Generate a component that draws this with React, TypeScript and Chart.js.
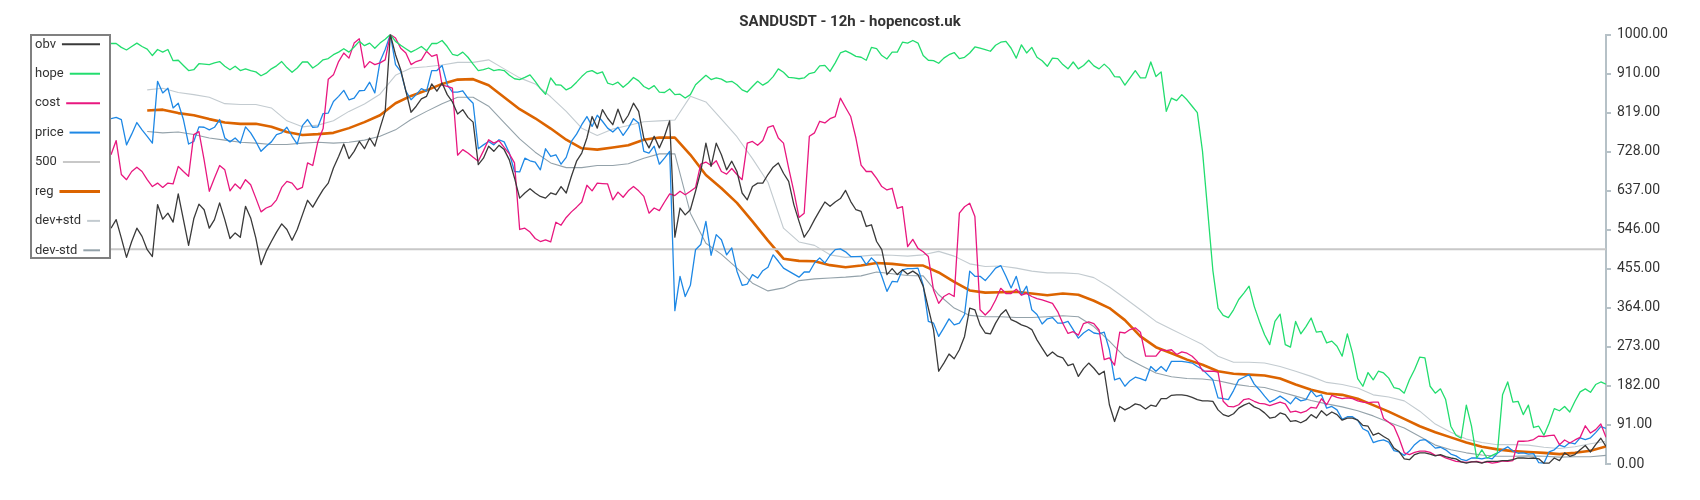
import React, { useEffect, useRef } from "react";
import { Chart, registerables } from "chart.js";

Chart.register(...registerables);

const chartTitle = "SANDUSDT - 12h - hopencost.uk";
const yTickLabels = ["0.00", "91.00", "182.00", "273.00", "364.00", "455.00", "546.00", "637.00", "728.00", "819.00", "910.00", "1000.00"];
const yMin = 0;
const yMax = 1000;

const obv = [
  549, 569, 526, 481, 518, 549, 530, 499, 483, 604,
  570, 584, 563, 629, 569, 509, 571, 605, 592, 549,
  569, 608, 569, 525, 538, 528, 600, 573, 526, 464,
  495, 518, 540, 559, 546, 521, 546, 580, 614, 598,
  619, 639, 654, 689, 716, 745, 711, 728, 751, 734,
  759, 740, 782, 821, 1000, 953, 918, 868, 819, 833,
  850, 856, 885, 868, 887, 860, 843, 815, 825, 807,
  796, 697, 712, 740, 728, 742, 732, 708, 666, 619,
  631, 641, 631, 623, 619, 631, 627, 646, 631, 670,
  705, 724, 759, 809, 782, 825, 805, 790, 826, 794,
  812, 840, 821, 759, 736, 763, 736, 763, 799, 528,
  596, 580, 592, 635, 681, 747, 693, 747, 720, 685,
  705, 681, 631, 615, 646, 654, 654, 674, 691, 701,
  677, 658, 604, 565, 528, 546, 569, 590, 610, 600,
  610, 618, 637, 611, 592, 588, 553, 557, 518, 499,
  441, 455, 441, 452, 442, 449, 441, 414, 363, 313,
  216, 235, 256, 245, 266, 297, 363, 359, 324, 305,
  303, 328, 348, 359, 336, 331, 324, 320, 313, 289,
  270, 251, 261, 251, 247, 229, 233, 204, 222, 235,
  223, 208, 216, 138, 99, 134, 126, 132, 140, 137,
  128, 137, 134, 152, 152, 160, 161, 161, 159, 155,
  150, 147, 147, 146, 126, 115, 111, 117, 130, 137,
  142, 133, 128, 119, 107, 109, 119, 115, 99, 101,
  96, 102, 115, 107, 124, 113, 121, 115, 102, 107,
  107, 102, 90, 88, 67, 72, 64, 57, 37, 29,
  12, 10, 22, 26, 26, 23, 19, 22, 17, 14,
  12, 5, 2, 5, 5, 2, 6, 6, 6, 8,
  8, 10, 14, 14, 13, 14, 12, 2, 2, 14,
  8, 26, 18, 22, 33, 43, 28, 45, 60, 41,
];

const hope = [
  979, 979, 970, 964, 972, 980, 972, 966, 951, 965,
  959, 965, 939, 940, 928, 916, 918, 932, 931, 930,
  934, 937, 926, 918, 926, 916, 920, 916, 913, 904,
  910, 920, 927, 937, 923, 912, 922, 936, 936, 922,
  930, 941, 944, 953, 959, 967, 959, 971, 984, 974,
  980, 968, 980, 989, 1000, 984, 975, 967, 959, 965,
  972, 962, 979, 979, 986, 972, 954, 951, 959, 947,
  931, 916, 918, 922, 916, 918, 916, 905, 897, 895,
  900, 906, 891, 874, 861, 899, 883, 882, 871, 877,
  889, 902, 913, 916, 909, 913, 887, 883, 889, 877,
  887, 900, 892, 879, 873, 881, 866, 865, 873, 860,
  861, 852, 860, 883, 894, 905, 895, 899, 896, 889,
  891, 883, 871, 866, 879, 891, 882, 889, 902, 920,
  912, 900, 899, 897, 899, 909, 912, 927, 928, 914,
  934, 957, 962, 956, 949, 947, 940, 970, 967, 951,
  943, 959, 959, 982, 980, 986, 980, 951, 940, 939,
  933, 945, 953, 958, 944, 947, 957, 971, 968, 965,
  961, 975, 982, 984, 968, 945, 976, 957, 970, 947,
  939, 926, 945, 944, 930, 920, 936, 920, 928, 940,
  927, 920, 931, 920, 902, 901, 882, 899, 916, 899,
  899, 936, 902, 913, 821, 852, 846, 860, 848, 833,
  818, 728, 590, 451, 363, 346, 341, 359, 383, 398,
  414, 367, 332, 301, 278, 332, 349, 278, 272, 332,
  303, 320, 340, 307, 309, 282, 286, 274, 251, 303,
  258, 199, 181, 213, 196, 216, 212, 200, 178, 175,
  165, 196, 220, 249, 247, 181, 165, 175, 150, 88,
  67, 60, 137, 88, 14, 33, 14, 20, 26, 161,
  191, 144, 146, 115, 137, 85, 88, 67, 95, 129,
  124, 134, 121, 146, 168, 175, 167, 185, 191, 186,
];

const cost = [
  720, 753, 674, 662, 681, 691, 681, 662, 646, 654,
  644, 654, 652, 693, 681, 670, 767, 774, 708, 635,
  666, 695, 685, 636, 652, 641, 662, 650, 619, 587,
  596, 601, 615, 644, 658, 654, 639, 644, 701, 695,
  751, 781, 896, 906, 937, 957, 945, 980, 990, 923,
  937, 930, 934, 941, 1000, 992, 968, 957, 930, 937,
  941, 961, 949, 953, 882, 879, 875, 719, 732, 724,
  714, 705, 729, 755, 747, 753, 737, 722, 701, 546,
  549, 540, 525, 518, 522, 517, 563, 556, 574, 587,
  598, 610, 649, 636, 654, 653, 652, 615, 633, 621,
  636, 646, 636, 623, 584, 596, 590, 610, 629, 625,
  635, 627, 635, 644, 698, 703, 695, 706, 681, 675,
  688, 674, 662, 747, 751, 742, 753, 784, 788, 759,
  747, 689, 635, 574, 584, 763, 771, 798, 794, 804,
  809, 852, 830, 809, 759, 696, 681, 681, 665, 646,
  638, 642, 595, 599, 506, 523, 502, 494, 483, 405,
  374, 390, 397, 390, 584, 599, 607, 576, 359, 347,
  359, 382, 409, 397, 397, 407, 393, 397, 390, 385,
  382, 378, 374, 355, 327, 304, 308, 300, 327, 331,
  327, 312, 243, 247, 230, 307, 305, 313, 317, 307,
  251, 251, 251, 266, 264, 266, 255, 261, 258, 251,
  239, 217, 216, 216, 214, 146, 134, 133, 138, 150,
  152, 146, 141, 140, 136, 140, 144, 140, 121, 123,
  119, 123, 132, 130, 152, 138, 160, 155, 152, 154,
  152, 147, 144, 143, 144, 144, 106, 97, 88, 60,
  26, 22, 27, 30, 30, 27, 20, 20, 14, 10,
  6, 5, 4, 5, 6, 3, 5, 2, 4, 7,
  6, 8, 53, 53, 54, 57, 65, 64, 66, 67,
  45, 56, 49, 56, 62, 89, 72, 80, 93, 62,
];

const price = [
  804, 807, 802, 743, 768, 795, 778, 763, 747, 891,
  864, 875, 829, 840, 802, 745, 751, 785, 784, 778,
  784, 802, 759, 750, 759, 747, 785, 771, 751, 728,
  740, 750, 767, 771, 784, 763, 745, 788, 802, 784,
  785, 816, 817, 844, 856, 870, 848, 852, 869, 870,
  889, 864, 937, 965, 1000, 930, 914, 868, 848, 860,
  874, 868, 916, 916, 928, 883, 866, 866, 869, 852,
  840, 734, 743, 751, 743, 755, 750, 724, 681, 680,
  712, 706, 703, 685, 734, 716, 720, 698, 714, 751,
  768, 790, 809, 786, 812, 798, 782, 773, 784, 765,
  782, 804, 794, 728, 724, 740, 698, 712, 728, 357,
  437, 390, 416, 499, 511, 565, 486, 534, 522, 487,
  503, 449, 416, 419, 441, 433, 450, 458, 487, 472,
  456, 449, 442, 435, 447, 447, 468, 480, 468, 486,
  499, 501, 494, 483, 483, 483, 464, 480, 468, 437,
  402, 425, 424, 452, 455, 455, 456, 417, 332, 328,
  297, 317, 338, 324, 328, 348, 449, 437, 437, 427,
  441, 456, 462, 437, 410, 437, 394, 414, 359, 348,
  326, 338, 341, 328, 328, 332, 313, 293, 305, 313,
  305, 303, 307, 266, 196, 200, 181, 194, 202, 199,
  194, 227, 216, 227, 216, 239, 239, 239, 237, 235,
  227, 220, 208, 196, 154, 152, 150, 171, 196, 202,
  208, 186, 173, 158, 144, 150, 158, 150, 140, 155,
  147, 150, 171, 157, 161, 130, 134, 126, 104, 110,
  110, 102, 82, 76, 50, 54, 56, 51, 31, 28,
  20, 30, 45, 55, 57, 48, 37, 39, 33, 23,
  19, 11, 8, 14, 14, 12, 15, 12, 25, 33,
  40, 30, 25, 26, 23, 24, 3, 2, 28, 33,
  44, 40, 50, 47, 61, 57, 61, 73, 87, 83,
];

const level500 = 500;

// moving-average style series: first point index and spacing between readings
const maStart = 7;
const maStep = 3;

const reg = [
  823, 825, 817, 812, 803, 795, 792, 792, 785, 773,
  766, 768, 771, 782, 796, 812, 840, 857, 870, 885,
  895, 896, 882, 854, 826, 805, 781, 755, 735, 732,
  737, 742, 755, 760, 760, 720, 673, 642, 608, 565,
  520, 478, 473, 472, 463, 458, 462, 468, 466, 462,
  462, 446, 424, 404, 399, 400, 401, 397, 393, 397,
  394, 380, 363, 335, 297, 272, 258, 243, 231, 216,
  210, 208, 206, 199, 185, 173, 164, 161, 152, 137,
  122, 105, 88, 74, 62, 50, 40, 34, 30, 28,
  26, 23, 26, 31, 41,
];

const devPlus = [
  871, 875, 865, 860, 854, 839, 837, 837, 829, 799,
  785, 789, 799, 821, 838, 861, 905, 922, 925, 929,
  935, 935, 941, 920, 899, 885, 855, 821, 782, 765,
  780, 788, 797, 799, 801, 856, 843, 803, 762, 711,
  656, 549, 517, 509, 487, 481, 484, 487, 486, 484,
  487, 495, 484, 466, 460, 461, 456, 449, 445, 445,
  443, 434, 412, 386, 359, 332, 314, 296, 278, 251,
  237, 237, 235, 227, 216, 204, 190, 185, 177, 161,
  156, 147, 123, 93, 74, 58, 50, 45, 45, 44,
  39, 36, 40, 47, 53,
];

const devMinus = [
  774, 771, 773, 767, 759, 754, 749, 747, 744, 744,
  747, 749, 747, 749, 754, 763, 778, 802, 821, 839,
  854, 854, 833, 795, 757, 726, 701, 690, 690, 695,
  695, 699, 712, 722, 722, 584, 514, 488, 456, 421,
  403, 410, 427, 431, 433, 435, 438, 447, 443, 439,
  438, 394, 363, 346, 343, 343, 341, 341, 343, 345,
  343, 320, 286, 249, 230, 212, 203, 199, 198, 194,
  186, 181, 178, 168, 158, 148, 140, 133, 124, 112,
  97, 84, 64, 44, 33, 26, 21, 18, 18, 19,
  18, 16, 17, 17, 20,
];

const COLORS = {
  obv: "#3a3a3a",
  hope: "#22dd6e",
  cost: "#e8177f",
  price: "#1e88e5",
  l500: "#c8c8c8",
  reg: "#dc6400",
  devPlus: "#c3cbd0",
  devMinus: "#94a2aa",
  axis: "#b6c1c7",
  text: "#333333",
};

const FONT = "Roboto, 'Noto Sans', sans-serif";

const legendEntries = [
  { label: "obv", color: COLORS.obv, width: 2 },
  { label: "hope", color: COLORS.hope, width: 2 },
  { label: "cost", color: COLORS.cost, width: 2 },
  { label: "price", color: COLORS.price, width: 2 },
  { label: "500", color: COLORS.l500, width: 2 },
  { label: "reg", color: COLORS.reg, width: 3 },
  { label: "dev+std", color: COLORS.devPlus, width: 2 },
  { label: "dev-std", color: COLORS.devMinus, width: 2 },
];

const toPoints = (arr: number[]) => arr.map((y, i) => ({ x: i, y }));
const toMaPoints = (arr: number[]) => arr.map((y, k) => ({ x: maStart + k * maStep, y }));

const overlayPlugin = {
  id: "overlay",
  afterDraw(chart: any) {
    const ctx = chart.ctx as CanvasRenderingContext2D;
    ctx.save();
    // title
    ctx.font = `bold 15px ${FONT}`;
    ctx.fillStyle = COLORS.text;
    ctx.textAlign = "center";
    ctx.textBaseline = "middle";
    ctx.fillText(chartTitle, 850, 22);

    // legend box
    const bx = 30, by = 34, bw = 81, bh = 225;
    ctx.fillStyle = "#ffffff";
    ctx.fillRect(bx, by, bw, bh);
    ctx.strokeStyle = "#808080";
    ctx.lineWidth = 2;
    ctx.strokeRect(bx + 1, by + 1, bw - 2, bh - 2);

    ctx.font = `13px ${FONT}`;
    ctx.textAlign = "left";
    ctx.textBaseline = "middle";
    const firstY = 44.3;
    const stepY = (250.3 - 44.3) / (legendEntries.length - 1);
    legendEntries.forEach((e, i) => {
      const y = firstY + i * stepY;
      ctx.fillStyle = COLORS.text;
      ctx.fillText(e.label, 35, y);
      const tw = ctx.measureText(e.label).width;
      ctx.beginPath();
      ctx.strokeStyle = e.color;
      ctx.lineWidth = e.width;
      ctx.moveTo(35 + tw + 6, y);
      ctx.lineTo(100, y);
      ctx.stroke();
    });
    ctx.restore();
  },
};

export default function App() {
  const canvasRef = useRef<HTMLCanvasElement | null>(null);

  useEffect(() => {
    const canvas = canvasRef.current;
    if (!canvas) return;
    const lastIndex = obv.length - 1;
    const thin = 1.3;
    const chart = new Chart(canvas, {
      type: "line",
      data: {
        datasets: [
          { label: "obv", data: toPoints(obv), borderColor: COLORS.obv, borderWidth: thin },
          { label: "hope", data: toPoints(hope), borderColor: COLORS.hope, borderWidth: thin },
          { label: "cost", data: toPoints(cost), borderColor: COLORS.cost, borderWidth: thin },
          { label: "price", data: toPoints(price), borderColor: COLORS.price, borderWidth: thin },
          { label: "500", data: [{ x: 0, y: level500 }, { x: lastIndex, y: level500 }], borderColor: COLORS.l500, borderWidth: 2 },
          { label: "reg", data: toMaPoints(reg), borderColor: COLORS.reg, borderWidth: 2.6 },
          { label: "dev+std", data: toMaPoints(devPlus), borderColor: COLORS.devPlus, borderWidth: 1.1 },
          { label: "dev-std", data: toMaPoints(devMinus), borderColor: COLORS.devMinus, borderWidth: 1.1 },
        ] as any,
      },
      options: {
        responsive: false,
        animation: false,
        devicePixelRatio: 1,
        events: [],
        parsing: false as any,
        normalized: true,
        layout: { padding: { left: 111, right: 0, top: 34.5, bottom: 36 } },
        elements: {
          point: { radius: 0 },
          line: { tension: 0, borderJoinStyle: "round" as any, fill: false },
        },
        plugins: {
          legend: { display: false },
          tooltip: { enabled: false },
          title: { display: false },
        },
        scales: {
          x: { type: "linear", min: 0, max: lastIndex, display: false },
          y: {
            type: "linear",
            position: "right",
            min: yMin,
            max: yMax,
            afterFit: (s: any) => {
              s.width = 94;
            },
            afterBuildTicks: (s: any) => {
              s.ticks = yTickLabels.map((_, i) => ({
                value: yMin + ((yMax - yMin) * i) / (yTickLabels.length - 1),
              }));
            },
            ticks: {
              autoSkip: false,
              padding: 6,
              color: COLORS.text,
              font: { family: FONT, size: 14 },
              callback: (_v: any, i: number) => yTickLabels[i],
            },
            grid: {
              drawOnChartArea: false,
              drawTicks: true,
              tickLength: 5,
              color: COLORS.axis,
              lineWidth: 2,
            },
            border: { display: true, color: COLORS.axis, width: 2 },
          },
        },
      } as any,
      plugins: [overlayPlugin],
    });
    return () => chart.destroy();
  }, []);

  return (
    <div style={{ position: "absolute", left: 0, top: 0, width: 1700, height: 500, background: "#fff" }}>
      <canvas ref={canvasRef} width={1700} height={500} style={{ display: "block", width: 1700, height: 500 }} />
    </div>
  );
}
